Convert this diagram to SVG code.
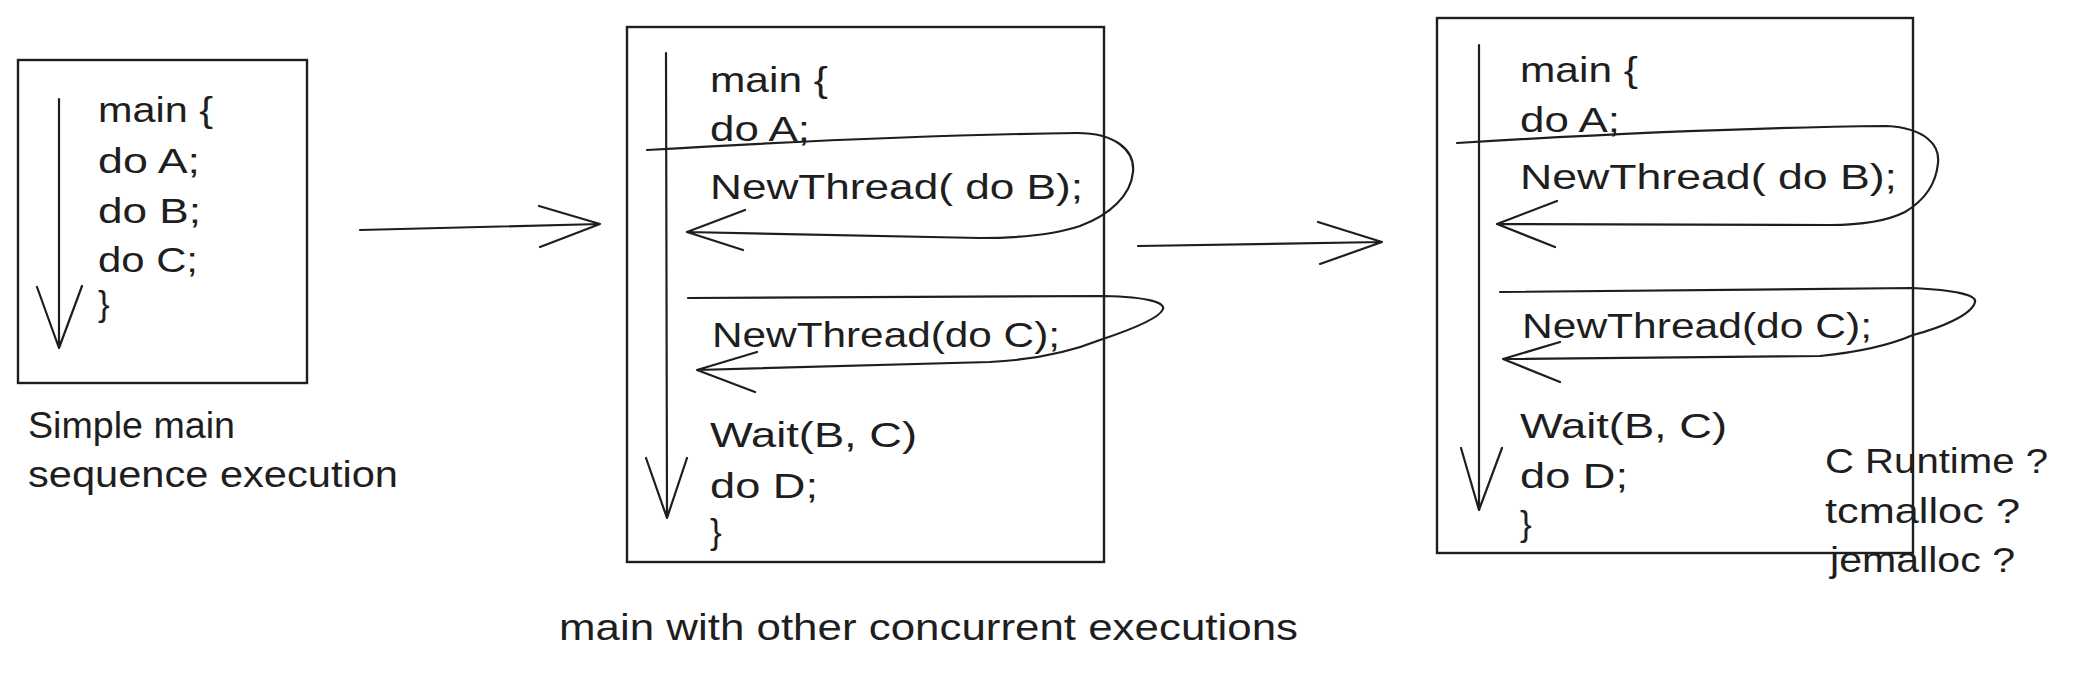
<svg xmlns="http://www.w3.org/2000/svg" width="2077" height="675" viewBox="0 0 2077 675">
<style>
.box{fill:none;stroke:#1e1e1e;stroke-width:2.4}
.ln{fill:none;stroke:#1e1e1e;stroke-width:2.2;stroke-linecap:round;stroke-linejoin:round}
.t{font-family:"Liberation Sans",Arial,sans-serif;font-size:35px;fill:#1e1e1e}
.lbl{font-family:"Liberation Sans",Arial,sans-serif;font-size:36px;fill:#1e1e1e}
</style>
<rect width="2077" height="675" fill="#ffffff"/>
<g id="node-simple">
<rect class="box" x="18" y="60" width="289" height="323"/>
<text class="t" x="98" y="122" textLength="115" lengthAdjust="spacingAndGlyphs">main {</text>
<text class="t" x="98" y="173" textLength="102" lengthAdjust="spacingAndGlyphs">do A;</text>
<text class="t" x="98" y="223" textLength="103" lengthAdjust="spacingAndGlyphs">do B;</text>
<text class="t" x="98" y="272" textLength="100" lengthAdjust="spacingAndGlyphs">do C;</text>
<text class="t" x="98" y="316">}</text>
</g>
<g id="label-simple">
<text class="lbl" x="28" y="438" textLength="207" lengthAdjust="spacingAndGlyphs">Simple main</text>
<text class="lbl" x="28" y="487" textLength="370" lengthAdjust="spacingAndGlyphs">sequence execution</text>
</g>
<g id="node-concurrent">
<rect class="box" x="627" y="27" width="477" height="535"/>
<text class="t" x="710" y="92" textLength="118" lengthAdjust="spacingAndGlyphs">main {</text>
<text class="t" x="710" y="141" textLength="100" lengthAdjust="spacingAndGlyphs">do A;</text>
<text class="t" x="710" y="199" textLength="373" lengthAdjust="spacingAndGlyphs">NewThread( do B);</text>
<text class="t" x="712" y="347" textLength="348" lengthAdjust="spacingAndGlyphs">NewThread(do C);</text>
<text class="t" x="710" y="447" textLength="207" lengthAdjust="spacingAndGlyphs">Wait(B, C)</text>
<text class="t" x="710" y="498" textLength="108" lengthAdjust="spacingAndGlyphs">do D;</text>
<text class="t" x="710" y="544">}</text>
</g>
<g id="label-concurrent">
<text class="lbl" x="559" y="640" textLength="739" lengthAdjust="spacingAndGlyphs">main with other concurrent executions</text>
</g>
<g id="node-runtime">
<rect class="box" x="1437" y="18" width="476" height="535"/>
<text class="t" x="1520" y="82" textLength="118" lengthAdjust="spacingAndGlyphs">main {</text>
<text class="t" x="1520" y="132" textLength="100" lengthAdjust="spacingAndGlyphs">do A;</text>
<text class="t" x="1520" y="189" textLength="377" lengthAdjust="spacingAndGlyphs">NewThread( do B);</text>
<text class="t" x="1522" y="338" textLength="350" lengthAdjust="spacingAndGlyphs">NewThread(do C);</text>
<text class="t" x="1520" y="438" textLength="207" lengthAdjust="spacingAndGlyphs">Wait(B, C)</text>
<text class="t" x="1520" y="488" textLength="108" lengthAdjust="spacingAndGlyphs">do D;</text>
<text class="t" x="1520" y="536">}</text>
</g>
<g id="label-runtime">
<text class="t" x="1825" y="473" textLength="223" lengthAdjust="spacingAndGlyphs">C Runtime ?</text>
<text class="t" x="1825" y="523" textLength="195" lengthAdjust="spacingAndGlyphs">tcmalloc ?</text>
<text class="t" x="1830" y="572" textLength="185" lengthAdjust="spacingAndGlyphs">jemalloc ?</text>
</g>
<g id="connectors">
<path class="ln" d="M59,99 L59,348 M37,287 L59,348 L82,286"/>
<path class="ln" d="M666,53 L667,518 M646,458 L667,518 L687,458"/>
<path class="ln" d="M1479,45 L1479,510 M1461,448 L1479,510 L1502,448"/>
<path class="ln" d="M647,150 Q900,135 1077,133 C1115,133 1135,150 1133,172 C1131,195 1110,215 1080,226 C1050,236 1010,238 980,238 L687,232 M745,210 L687,232 L743,250"/>
<path class="ln" d="M688,298 L1104,296 C1150,297 1165,303 1163,309 C1160,318 1130,330 1100,340 C1070,352 1030,360 990,362 L697,370 M757,352 L697,370 L755,392"/>
<path class="ln" d="M1457,143 Q1700,128 1887,126 C1925,128 1940,145 1938,163 C1936,185 1925,200 1905,212 C1885,222 1860,225 1830,225 L1497,224 M1557,201 L1497,224 L1555,247"/>
<path class="ln" d="M1500,292 L1913,288 C1955,290 1977,295 1975,302 C1972,315 1940,328 1913,335 C1890,345 1860,352 1820,356 L1503,359 M1560,342 L1503,359 L1560,382"/>
<path class="ln" d="M360,230 L600,224 M539,206 L600,224 L540,247"/>
<path class="ln" d="M1138,246 L1382,242 M1318,222 L1382,242 L1320,264"/>
</g>
</svg>
